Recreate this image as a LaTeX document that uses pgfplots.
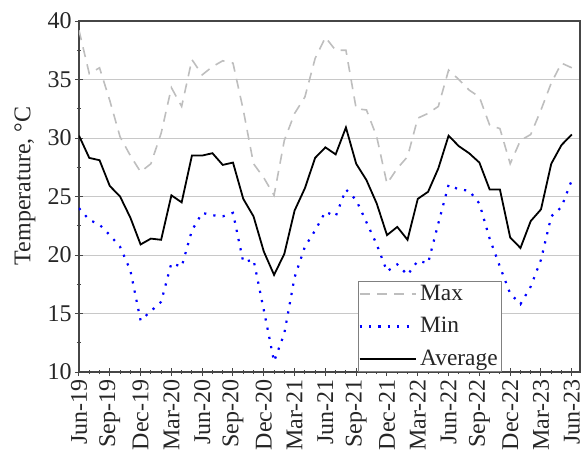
\documentclass[border=0pt]{standalone}
\usepackage{fontspec}
\setmainfont{Liberation Serif}
\usepackage{pgfplots}
\usepackage{pgfplotstable}
\pgfplotsset{compat=1.18}
\pgfplotstableread{
i max min avg
0 39.2 24.0 30.2
1 35.5 23.0 28.3
2 36.0 22.6 28.1
3 33.2 21.7 25.9
4 30.1 20.7 25.0
5 28.5 18.7 23.2
6 27.1 14.4 20.9
7 27.8 15.2 21.4
8 30.4 16.0 21.3
9 34.3 19.3 25.1
10 32.7 19.0 24.5
11 36.7 22.1 28.5
12 35.4 23.6 28.5
13 36.1 23.4 28.7
14 36.6 23.3 27.7
15 36.4 23.6 27.9
16 32.4 19.4 24.8
17 27.8 19.6 23.3
18 26.6 15.3 20.3
19 25.1 10.9 18.3
20 29.8 13.3 20.1
21 32.1 18.1 23.8
22 33.5 20.7 25.7
23 36.8 22.1 28.3
24 38.6 23.7 29.2
25 37.5 23.3 28.6
26 37.5 25.6 30.9
27 32.5 24.7 27.8
28 32.4 22.8 26.4
29 30.1 20.9 24.4
30 26.1 18.6 21.7
31 27.4 19.2 22.4
32 28.4 18.3 21.3
33 31.7 19.5 24.8
34 32.1 19.3 25.4
35 32.7 22.7 27.4
36 35.8 26.0 30.2
37 35.0 25.6 29.3
38 34.1 25.5 28.7
39 33.5 24.4 27.9
40 31.1 21.4 25.6
41 30.8 19.0 25.6
42 27.8 16.7 21.5
43 29.8 15.8 20.6
44 30.3 17.3 22.9
45 32.4 19.6 23.9
46 34.7 23.3 27.8
47 36.4 24.1 29.4
48 36.0 26.4 30.3
}\data
\definecolor{maxgray}{RGB}{190,190,190}
\definecolor{gridgray}{RGB}{200,200,200}
\definecolor{axgray}{RGB}{70,70,70}
\begin{document}
\begin{tikzpicture}
\begin{axis}[
  scale only axis,
  width=250.5pt, height=175.5pt,
  xmin=0, xmax=48.8, ymin=10, ymax=40,
  xtick={0,3,...,48},
  xticklabels={Jun-19,Sep-19,Dec-19,Mar-20,Jun-20,Sep-20,Dec-20,Mar-21,Jun-21,Sep-21,Dec-21,Mar-22,Jun-22,Sep-22,Dec-22,Mar-23,Jun-23},
  minor x tick num=2,
  ytick={10,15,...,40},
  minor y tick num=1,
  xtick pos=bottom, ytick pos=left,
  tick align=center,
  major tick length=4pt, minor tick length=2pt,
  every tick/.style={axgray, line width=0.5pt},
  axis line style={axgray, line width=0.6pt},
  ymajorgrids, grid style={gridgray, line width=0.5pt},
  /pgf/number format/assume math mode=true,
  tick label style={font=\fontsize{12}{14}\selectfont, text=black!85},
  x tick label style={rotate=90, anchor=east, inner sep=1.5pt},
  y tick label style={inner sep=1.5pt},
  ylabel={Temperature, °C},
  ylabel style={font=\fontsize{12}{14}\selectfont, text=black!85, at={(axis description cs:-0.108,0.53)}, anchor=center},
  legend style={at={(axis description cs:0.557,0)}, anchor=south west,
    draw=gray, line width=0.5pt, font=\fontsize{11.7}{13}\selectfont, text=black!85,
    inner sep=0pt, row sep=3.6pt, fill=white, nodes={inner sep=1.7pt}},
  legend cell align=left,
  legend image code/.code={\draw[#1] (-1pt,0pt) -- (27pt,0pt);},
]
\addplot[maxgray, line width=0.8pt, dash pattern=on 5pt off 3.7pt] table[x=i, y=max] {\data};
\addlegendentry{Max}
\addplot[blue, line width=1.1pt, dash pattern=on 1.1pt off 3.6pt] table[x=i, y=min] {\data};
\addlegendentry{Min}
\addplot[black, line width=0.9pt] table[x=i, y=avg] {\data};
\addlegendentry{Average}
\end{axis}
\pgfresetboundingbox
\path (current axis.south west) ++(-39.5pt,-39pt) coordinate (bl);
\path (current axis.north east) ++(2pt,10.5pt) coordinate (tr);
\useasboundingbox (bl) rectangle (tr);
\end{tikzpicture}
\end{document}
